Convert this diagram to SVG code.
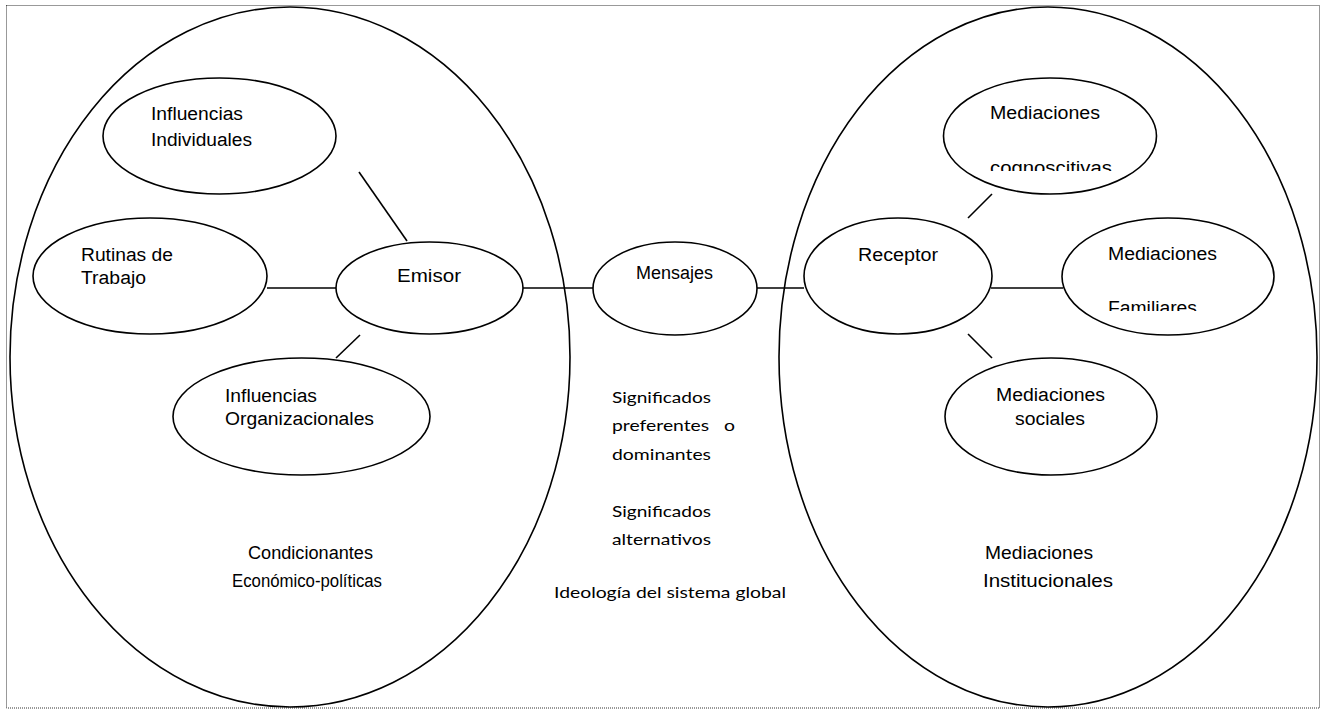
<svg xmlns="http://www.w3.org/2000/svg" width="1325" height="710" viewBox="0 0 1325 710">
  <style>
    .frame { fill: none; stroke: #333; stroke-width: 1; stroke-dasharray: 1 1; }
    .shape { fill: #fff; stroke: #000; stroke-width: 1.6; }
    .outer { fill: none; stroke: #000; stroke-width: 1.6; }
    .link { stroke: #000; stroke-width: 1.6; fill: none; }
    .lbl { font-family: "Liberation Sans", Arial, sans-serif; font-size: 18px; fill: #000; }
    .note { font-family: Lato, "Open Sans", sans-serif; font-size: 16px; fill: #000; }
  </style>
  <defs>
    <clipPath id="clipCog"><rect x="940" y="80" width="220" height="91"/></clipPath>
    <clipPath id="clipFam"><rect x="1060" y="220" width="220" height="91"/></clipPath>
  </defs>

  <rect class="frame" x="6.5" y="5.5" width="1313" height="702.5"/>

  <!-- outer domains -->
  <g id="emisor-domain">
    <ellipse class="outer" cx="290" cy="357" rx="280" ry="350"/>
    <text class="lbl" x="248" y="559" textLength="125" lengthAdjust="spacingAndGlyphs">Condicionantes</text>
    <text class="lbl" x="232" y="587" textLength="150" lengthAdjust="spacingAndGlyphs">Económico-políticas</text>
  </g>
  <g id="receptor-domain">
    <ellipse class="outer" cx="1048" cy="357" rx="269" ry="350"/>
    <text class="lbl" x="985" y="559" textLength="108" lengthAdjust="spacingAndGlyphs">Mediaciones</text>
    <text class="lbl" x="983" y="587" textLength="130" lengthAdjust="spacingAndGlyphs">Institucionales</text>
  </g>

  <!-- connectors -->
  <g id="connectors">
    <line class="link" x1="359" y1="172" x2="407" y2="241"/>
    <line class="link" x1="267" y1="288" x2="336" y2="288"/>
    <line class="link" x1="360" y1="335" x2="336" y2="358"/>
    <line class="link" x1="523" y1="288" x2="593" y2="288"/>
    <line class="link" x1="757" y1="288" x2="804" y2="288"/>
    <line class="link" x1="992" y1="194" x2="968" y2="218"/>
    <line class="link" x1="991" y1="288" x2="1063" y2="288"/>
    <line class="link" x1="968" y1="334" x2="992" y2="358"/>
  </g>

  <!-- left nodes -->
  <g id="influencias-individuales">
    <ellipse class="shape" cx="219.5" cy="136" rx="116.5" ry="58"/>
    <text class="lbl" x="151" y="120" textLength="92" lengthAdjust="spacingAndGlyphs">Influencias</text>
    <text class="lbl" x="151" y="146" textLength="101" lengthAdjust="spacingAndGlyphs">Individuales</text>
  </g>
  <g id="rutinas-trabajo">
    <ellipse class="shape" cx="150" cy="276" rx="117" ry="58"/>
    <text class="lbl" x="81" y="261" textLength="92" lengthAdjust="spacingAndGlyphs">Rutinas de</text>
    <text class="lbl" x="81" y="284" textLength="65" lengthAdjust="spacingAndGlyphs">Trabajo</text>
  </g>
  <g id="emisor">
    <ellipse class="shape" cx="429.5" cy="288" rx="93.5" ry="46"/>
    <text class="lbl" x="397" y="282" textLength="64" lengthAdjust="spacingAndGlyphs">Emisor</text>
  </g>
  <g id="influencias-organizacionales">
    <ellipse class="shape" cx="301.5" cy="416.5" rx="128.5" ry="58.5"/>
    <text class="lbl" x="225" y="402" textLength="92" lengthAdjust="spacingAndGlyphs">Influencias</text>
    <text class="lbl" x="225" y="425" textLength="149" lengthAdjust="spacingAndGlyphs">Organizacionales</text>
  </g>

  <!-- centre -->
  <g id="mensajes">
    <ellipse class="shape" cx="675" cy="288.5" rx="82" ry="46.5"/>
    <text class="lbl" x="636" y="279" font-size="16" textLength="77" lengthAdjust="spacingAndGlyphs">Mensajes</text>
  </g>
  <g id="significados">
    <text class="note" x="612" y="403" textLength="99" lengthAdjust="spacingAndGlyphs">Significados</text>
    <text class="note" x="612" y="431" textLength="123" lengthAdjust="spacingAndGlyphs" xml:space="preserve">preferentes   o</text>
    <text class="note" x="612" y="460" textLength="99" lengthAdjust="spacingAndGlyphs">dominantes</text>
    <text class="note" x="612" y="517" textLength="99" lengthAdjust="spacingAndGlyphs">Significados</text>
    <text class="note" x="612" y="545" textLength="99" lengthAdjust="spacingAndGlyphs">alternativos</text>
    <text class="note" x="554" y="598" textLength="232" lengthAdjust="spacingAndGlyphs">Ideología del sistema global</text>
  </g>

  <!-- right nodes -->
  <g id="receptor">
    <ellipse class="shape" cx="898" cy="276" rx="94" ry="58"/>
    <text class="lbl" x="858" y="261" textLength="80" lengthAdjust="spacingAndGlyphs">Receptor</text>
  </g>
  <g id="mediaciones-cognoscitivas">
    <ellipse class="shape" cx="1050" cy="136" rx="106.5" ry="58"/>
    <text class="lbl" x="990" y="119" textLength="110" lengthAdjust="spacingAndGlyphs">Mediaciones</text>
    <text class="lbl" x="990" y="174" textLength="122" lengthAdjust="spacingAndGlyphs" clip-path="url(#clipCog)">cognoscitivas</text>
  </g>
  <g id="mediaciones-familiares">
    <ellipse class="shape" cx="1168" cy="276.5" rx="106" ry="58.5"/>
    <text class="lbl" x="1108" y="260" textLength="109" lengthAdjust="spacingAndGlyphs">Mediaciones</text>
    <text class="lbl" x="1108" y="314" textLength="89" lengthAdjust="spacingAndGlyphs" clip-path="url(#clipFam)">Familiares</text>
  </g>
  <g id="mediaciones-sociales">
    <ellipse class="shape" cx="1051" cy="416.5" rx="106" ry="58.5"/>
    <text class="lbl" x="996" y="401" textLength="109" lengthAdjust="spacingAndGlyphs">Mediaciones</text>
    <text class="lbl" x="1015" y="425" textLength="70" lengthAdjust="spacingAndGlyphs">sociales</text>
  </g>
</svg>
